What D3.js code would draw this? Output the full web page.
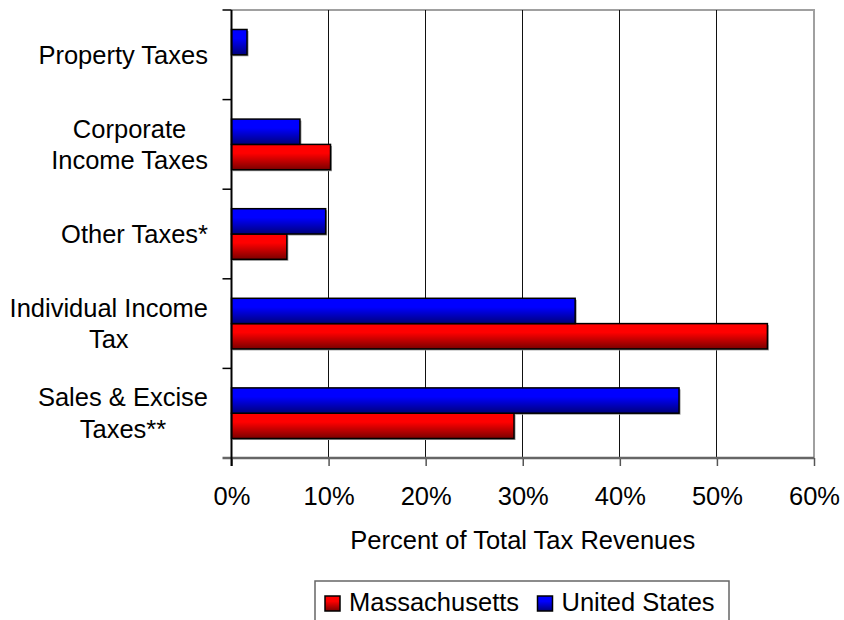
<!DOCTYPE html>
<html>
<head>
<meta charset="utf-8">
<script src="https://cdn.jsdelivr.net/npm/d3@7"></script>
<style>
  body { margin: 0; background: #fff; }
  svg { font-family: "Liberation Sans", Arial, sans-serif; }
</style>
</head>
<body>
<div id="viz"></div>
<script>
// categories top to bottom, values in fraction of total tax revenue
const categories = ['Property Taxes', 'Corporate\nIncome Taxes', 'Other Taxes*', 'Individual Income\nTax', 'Sales & Excise\nTaxes**'];
const massachusetts = [0, 0.102, 0.057, 0.552, 0.291];
const unitedStates = [0.016, 0.0705, 0.097, 0.354, 0.461];
const seriesNames = ['Massachusetts', 'United States'];
const xTicks = [0, 0.1, 0.2, 0.3, 0.4, 0.5, 0.6];
const xTitle = 'Percent of Total Tax Revenues';

const W = 844, H = 620;
const plotLeft = 231.5, plotRight = 814, plotTop = 10, plotBottom = 458;
const fs = 25.5;

const svg = d3.select('#viz').append('svg')
  .attr('width', W).attr('height', H);

// gradients for the bars
const defs = svg.append('defs');
function grad(id, c1, c2) {
  const g = defs.append('linearGradient').attr('id', id)
    .attr('x1', 0).attr('y1', 0).attr('x2', 0).attr('y2', 1);
  g.append('stop').attr('offset', '0%').attr('stop-color', c1);
  g.append('stop').attr('offset', '35%').attr('stop-color', c1);
  g.append('stop').attr('offset', '100%').attr('stop-color', c2);
}
grad('gRed', '#ff0000', '#7a0000');
grad('gBlue', '#0000ff', '#00007a');
const fills = { 'Massachusetts': 'url(#gRed)', 'United States': 'url(#gBlue)' };

const x = d3.scaleLinear().domain([0, 0.6]).range([plotLeft, plotRight]);
const y = d3.scaleBand().domain(categories).range([plotTop, plotBottom]);
const inner = d3.scaleBand().domain(['United States', 'Massachusetts'])
  .range([0, y.bandwidth()]).paddingInner(0).paddingOuter(0.77);

// plot border (top and right, light gray)
svg.append('path')
  .attr('d', `M${plotLeft},${plotTop}H${plotRight}V${plotBottom}`)
  .attr('fill', 'none').attr('stroke', '#a0a0a0').attr('stroke-width', 2);

// vertical gridlines
svg.append('g').selectAll('line')
  .data(xTicks.filter(d => d > 0 && d < 0.6))
  .enter().append('line')
  .attr('x1', d => x(d)).attr('x2', d => x(d))
  .attr('y1', plotTop).attr('y2', plotBottom)
  .attr('stroke', '#111').attr('stroke-width', 1)
  .attr('shape-rendering', 'crispEdges');

// bars
const rows = categories.map((c, i) => ({ cat: c, 'Massachusetts': massachusetts[i], 'United States': unitedStates[i] }));
const barData = [];
rows.forEach(r => seriesNames.forEach(s => {
  if (r[s] > 0) barData.push({ cat: r.cat, s: s, v: r[s] });
}));

// soft shadow
svg.append('g').selectAll('rect')
  .data(barData).enter().append('rect')
  .attr('x', x(0) + 1.5)
  .attr('y', d => y(d.cat) + inner(d.s) + 1.5)
  .attr('width', d => x(d.v) - x(0))
  .attr('height', inner.bandwidth())
  .attr('fill', '#999');

svg.append('g').selectAll('rect')
  .data(barData).enter().append('rect')
  .attr('x', x(0))
  .attr('y', d => y(d.cat) + inner(d.s))
  .attr('width', d => x(d.v) - x(0))
  .attr('height', inner.bandwidth())
  .attr('fill', d => fills[d.s])
  .attr('stroke', '#000').attr('stroke-width', 1.5);

// x axis
const xAxis = d3.axisBottom(x).tickValues(xTicks)
  .tickFormat(d3.format('.0%')).tickSize(8).tickSizeOuter(0);
const gx = svg.append('g').attr('transform', `translate(0,${plotBottom})`).call(xAxis);
gx.select('.domain').remove();
gx.selectAll('.tick line').attr('stroke', '#555').attr('stroke-width', 1.5);
gx.selectAll('.tick text')
  .attr('y', 47).attr('dy', null)
  .attr('font-size', fs).attr('fill', '#000')
  .attr('font-family', '"Liberation Sans", Arial, sans-serif');
svg.append('line')
  .attr('x1', plotLeft - 9).attr('x2', plotRight)
  .attr('y1', plotBottom).attr('y2', plotBottom)
  .attr('stroke', '#666').attr('stroke-width', 2.5);

// y axis line and ticks at band boundaries
svg.append('line')
  .attr('x1', plotLeft).attr('x2', plotLeft)
  .attr('y1', plotTop).attr('y2', plotBottom + 8)
  .attr('stroke', '#000').attr('stroke-width', 2);
svg.append('g').selectAll('line')
  .data(categories)
  .enter().append('line')
  .attr('x1', plotLeft - 9).attr('x2', plotLeft)
  .attr('y1', d => y(d)).attr('y2', d => y(d))
  .attr('stroke', '#000').attr('stroke-width', 1.5);

// category labels: lines centered inside a block right-aligned to 208
const labelRight = 208;
const lineH = 31.6;
categories.forEach(c => {
  const lines = c.split('\n');
  const cy = y(c) + y.bandwidth() / 2;
  const g = svg.append('g');
  const texts = lines.map((t, i) => g.append('text')
    .attr('y', cy - (lines.length - 1) * lineH / 2 + i * lineH + 9)
    .attr('font-size', fs).attr('text-anchor', 'middle').attr('fill', '#000')
    .text(t));
  const wMax = d3.max(texts, t => t.node().getComputedTextLength());
  texts.forEach(t => t.attr('x', labelRight - wMax / 2));
});

// axis title
svg.append('text')
  .attr('x', (plotLeft + plotRight) / 2).attr('y', 548.5)
  .attr('text-anchor', 'middle').attr('font-size', fs).attr('fill', '#000')
  .text(xTitle);

// legend
const lg = svg.append('g');
lg.append('rect')
  .attr('x', 315).attr('y', 581).attr('width', 414).attr('height', 45)
  .attr('fill', '#fff').attr('stroke', '#666').attr('stroke-width', 1.5);
const legendX = [325, 537.5];
seriesNames.forEach((s, i) => {
  lg.append('rect')
    .attr('x', legendX[i]).attr('y', 596).attr('width', 15).attr('height', 15)
    .attr('fill', fills[s]).attr('stroke', '#000').attr('stroke-width', 1.5);
  lg.append('text')
    .attr('x', legendX[i] + 24).attr('y', 610.7)
    .attr('font-size', fs).attr('fill', '#000')
    .text(s);
});
</script>
</body>
</html>
